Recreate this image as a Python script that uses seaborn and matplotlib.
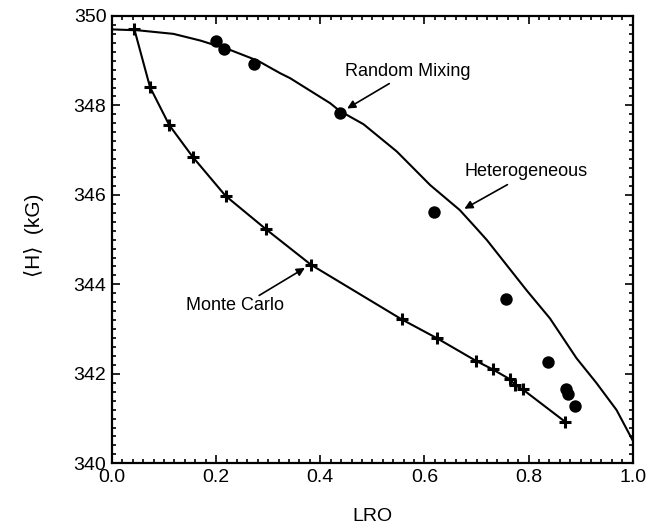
import matplotlib
matplotlib.use('Agg')
import matplotlib.pyplot as plt
import seaborn as sns
import pandas as pd
from matplotlib.ticker import MultipleLocator

# Heterogeneous curve
het_lro = [0.0, 0.05, 0.118, 0.17, 0.227, 0.28, 0.323, 0.342, 0.419, 0.437, 0.483, 0.547,
           0.611, 0.668, 0.700, 0.720, 0.758, 0.796, 0.841, 0.892, 0.930, 0.969, 1.0]
het_h = [349.70, 349.68, 349.60, 349.45, 349.24, 349.00, 348.72, 348.61, 348.05, 347.88,
         347.58, 346.97, 346.22, 345.66, 345.25, 344.99, 344.43, 343.87, 343.24, 342.35,
         341.80, 341.19, 340.51]

# Monte Carlo (crosses joined by a line)
mc_lro = [0.043, 0.073, 0.110, 0.155, 0.218, 0.296, 0.382, 0.556, 0.625, 0.699,
          0.731, 0.764, 0.774, 0.789, 0.870]
mc_h = [349.70, 348.41, 347.56, 346.85, 345.98, 345.23, 344.44, 343.22, 342.79, 342.29,
        342.10, 341.88, 341.75, 341.65, 340.93]

# Random Mixing (filled circles)
rm_lro = [0.200, 0.215, 0.273, 0.437, 0.618, 0.756, 0.837, 0.872, 0.876, 0.890]
rm_h = [349.43, 349.26, 348.93, 347.82, 345.61, 343.67, 342.26, 341.65, 341.55, 341.28]

het = pd.DataFrame({'LRO': het_lro, 'H': het_h})
mc = pd.DataFrame({'LRO': mc_lro, 'H': mc_h})
rm = pd.DataFrame({'LRO': rm_lro, 'H': rm_h})

sns.set_style('ticks')
plt.rcParams['font.family'] = ['Liberation Sans', 'DejaVu Sans']
plt.rcParams.update({'text.color': 'black', 'axes.labelcolor': 'black',
                     'xtick.color': 'black', 'ytick.color': 'black'})

fig = plt.figure(figsize=(6.58, 5.31), dpi=100)
ax = fig.add_axes([0.1702, 0.1275, 0.7914, 0.8424])

sns.lineplot(data=het, x='LRO', y='H', sort=False, estimator=None,
             color='black', linewidth=1.5, ax=ax)
sns.lineplot(data=mc, x='LRO', y='H', sort=False, estimator=None,
             color='black', linewidth=1.5, marker='+', markersize=9,
             markeredgewidth=2.2, markeredgecolor='black', ax=ax)
sns.scatterplot(data=rm, x='LRO', y='H', color='black', s=80,
                edgecolor='black', linewidth=0, ax=ax, zorder=3)

ax.set_xlim(0, 1.0)
ax.set_ylim(340, 350)
ax.xaxis.set_major_locator(MultipleLocator(0.2))
ax.xaxis.set_minor_locator(MultipleLocator(0.02))
ax.yaxis.set_major_locator(MultipleLocator(2))
ax.yaxis.set_minor_locator(MultipleLocator(0.2))
ax.set_xticks([0, 0.2, 0.4, 0.6, 0.8, 1.0])
ax.set_xticklabels(['0.0', '0.2', '0.4', '0.6', '0.8', '1.0'])
ax.tick_params(which='both', direction='in', top=True, right=True,
               labelsize=14, color='black', width=1.2)
ax.tick_params(which='major', length=6, pad=4)
ax.tick_params(which='minor', length=3)
for sp in ax.spines.values():
    sp.set_linewidth(1.6)
    sp.set_color('black')

ax.set_xlabel('LRO', fontsize=14, labelpad=16)
ax.set_ylabel('⟨H⟩  (kG)', fontsize=15)
ax.yaxis.set_label_coords(-0.13, 0.51)

arrow = dict(arrowstyle='-|>', color='black', lw=1.2, mutation_scale=12)
ax.text(0.568, 348.75, 'Random Mixing', fontsize=13, ha='center', va='center')
ax.annotate('', xy=(0.447, 347.90), xytext=(0.537, 348.52), arrowprops=arrow)
ax.text(0.796, 346.52, 'Heterogeneous', fontsize=13, ha='center', va='center')
ax.annotate('', xy=(0.672, 345.66), xytext=(0.764, 346.26), arrowprops=arrow)
ax.text(0.236, 343.52, 'Monte Carlo', fontsize=13, ha='center', va='center')
ax.annotate('', xy=(0.375, 344.40), xytext=(0.278, 343.72), arrowprops=arrow)

fig.savefig('out.png', dpi=100)
